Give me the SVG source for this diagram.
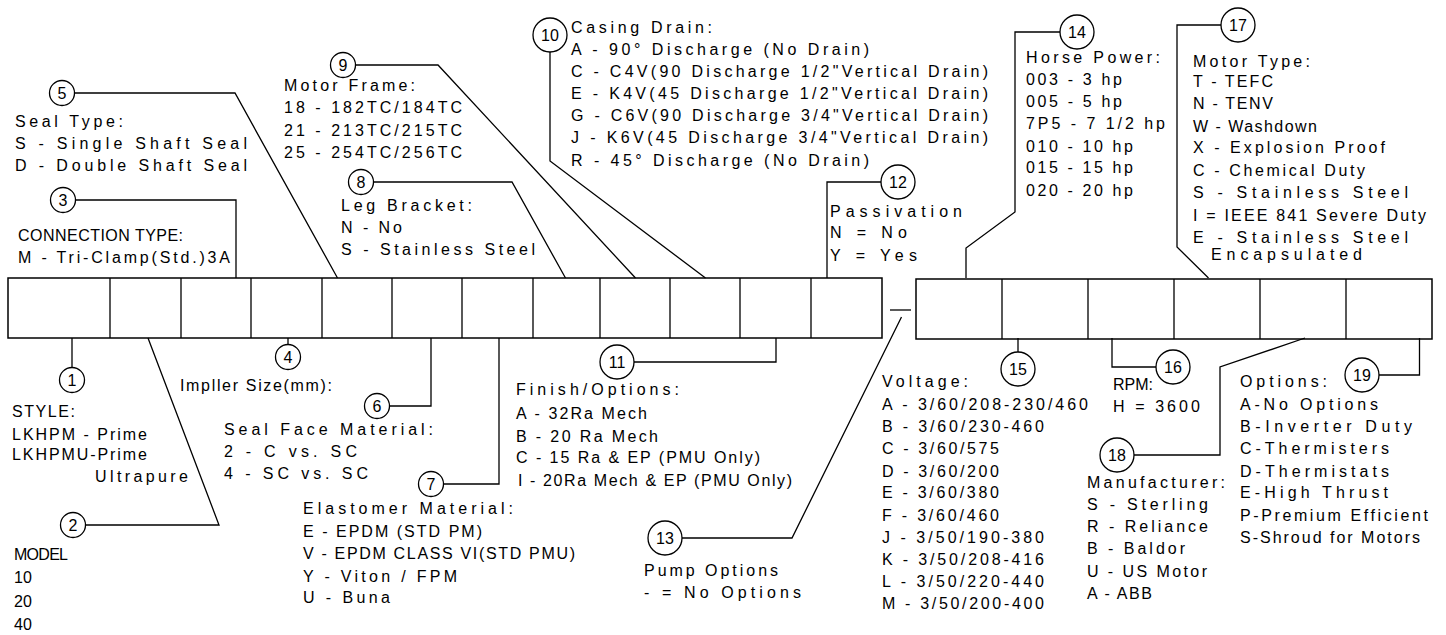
<svg xmlns="http://www.w3.org/2000/svg" width="1446" height="635" viewBox="0 0 1446 635">
<style>
text{font-family:"Liberation Sans",Arial,sans-serif;font-size:16px;fill:#000}
.n{text-anchor:middle;font-size:16px}
.c{fill:#fff;stroke:#000;stroke-width:1.3}
.ln{fill:none;stroke:#000;stroke-width:1.3}
.bx{fill:#fff;stroke:#000;stroke-width:1.5}
</style>
<rect width="1446" height="635" fill="#fff"/>
<g id="code-boxes">
<rect class="bx" x="8" y="278" width="874" height="60"/>
<path class="ln" d="M110 278V338M181 278V338M251 278V338M322 278V338M392 278V338M462 278V338M533 278V338M600 278V338M670 278V338M740 278V338M811 278V338"/>
<rect class="bx" x="916" y="279" width="516" height="60"/>
<path class="ln" d="M1002 279V339M1088 279V339M1174 279V339M1260 279V339M1346 279V339"/>
<path class="ln" d="M890 310H911"/>
</g>
<g id="connectors">
<path class="ln" d="M72 338V367.5"/>
<path class="ln" d="M85.5 525H219L148 338"/>
<path class="ln" d="M75.5 200H236V278"/>
<path class="ln" d="M288 338V344.5"/>
<path class="ln" d="M74.5 93H235L337.5 278"/>
<path class="ln" d="M389.5 406H431V338"/>
<path class="ln" d="M443.5 484H499V338"/>
<path class="ln" d="M373.5 182H512L565.5 278"/>
<path class="ln" d="M355.5 65H438L635.5 278"/>
<path class="ln" d="M550 52V161L705.5 278"/>
<path class="ln" d="M634 362H776V338"/>
<path class="ln" d="M827 278V182H881"/>
<path class="ln" d="M682 538H792L901.5 317"/>
<path class="ln" d="M966 278V248L1015 212V32H1060"/>
<path class="ln" d="M1018 338V352"/>
<path class="ln" d="M1112 338V367H1156"/>
<path class="ln" d="M1208.5 278L1177 247V25H1221"/>
<path class="ln" d="M1305 338L1220 367V455H1134"/>
<path class="ln" d="M1379 375H1419.5V338"/>
</g>
<g id="node-1">
<circle class="c" cx="72" cy="380" r="12.5"/><text class="n" x="72" y="385.5">1</text>
<text x="12" y="417" textLength="63" lengthAdjust="spacing">STYLE:</text>
<text x="12" y="440" textLength="135" lengthAdjust="spacing">LKHPM - Prime</text>
<text x="12" y="460" textLength="135" lengthAdjust="spacing">LKHPMU-Prime</text>
<text x="95" y="482" textLength="93" lengthAdjust="spacing">Ultrapure</text>
</g>
<g id="node-2">
<circle class="c" cx="73" cy="525" r="12.5"/><text class="n" x="73" y="530.5">2</text>
<text x="14" y="560" textLength="54" lengthAdjust="spacing">MODEL</text>
<text x="14" y="583">10</text>
<text x="14" y="607">20</text>
<text x="14" y="630">40</text>
</g>
<g id="node-3">
<circle class="c" cx="63" cy="200" r="12.5"/><text class="n" x="63" y="205.5">3</text>
<text x="18" y="241" textLength="165" lengthAdjust="spacing">CONNECTION TYPE:</text>
<text x="18" y="263" textLength="212" lengthAdjust="spacing">M - Tri-Clamp(Std.)3A</text>
</g>
<g id="node-4">
<circle class="c" cx="288" cy="357" r="12.5"/><text class="n" x="288" y="362.5">4</text>
<text x="180" y="391" textLength="152" lengthAdjust="spacing">Impller Size(mm):</text>
</g>
<g id="node-5">
<circle class="c" cx="62" cy="93" r="12.5"/><text class="n" x="62" y="98.5">5</text>
<text x="15" y="127" textLength="108" lengthAdjust="spacing">Seal Type:</text>
<text x="15" y="149" textLength="232" lengthAdjust="spacing">S - Single Shaft Seal</text>
<text x="15" y="171" textLength="232" lengthAdjust="spacing">D - Double Shaft Seal</text>
</g>
<g id="node-6">
<circle class="c" cx="377" cy="406" r="12.5"/><text class="n" x="377" y="411.5">6</text>
<text x="224" y="435" textLength="209" lengthAdjust="spacing">Seal Face Material:</text>
<text x="224" y="457" textLength="133" lengthAdjust="spacing">2 - C vs. SC</text>
<text x="224" y="479" textLength="144" lengthAdjust="spacing">4 - SC vs. SC</text>
</g>
<g id="node-7">
<circle class="c" cx="431" cy="484" r="12.5"/><text class="n" x="431" y="489.5">7</text>
<text x="303" y="514" textLength="210" lengthAdjust="spacing">Elastomer Material:</text>
<text x="303" y="537" textLength="179" lengthAdjust="spacing">E - EPDM (STD PM)</text>
<text x="303" y="559" textLength="272" lengthAdjust="spacing">V - EPDM CLASS VI(STD PMU)</text>
<text x="303" y="582" textLength="154" lengthAdjust="spacing">Y - Viton / FPM</text>
<text x="303" y="603" textLength="87" lengthAdjust="spacing">U - Buna</text>
</g>
<g id="node-8">
<circle class="c" cx="361" cy="182" r="12.5"/><text class="n" x="361" y="187.5">8</text>
<text x="341" y="211" textLength="131" lengthAdjust="spacing">Leg Bracket:</text>
<text x="341" y="233" textLength="61" lengthAdjust="spacing">N - No</text>
<text x="341" y="255" textLength="194" lengthAdjust="spacing">S - Stainless Steel</text>
</g>
<g id="node-9">
<circle class="c" cx="343" cy="65" r="12.5"/><text class="n" x="343" y="70.5">9</text>
<text x="284" y="91" textLength="131" lengthAdjust="spacing">Motor Frame:</text>
<text x="284" y="113" textLength="178" lengthAdjust="spacing">18 - 182TC/184TC</text>
<text x="284" y="136" textLength="178" lengthAdjust="spacing">21 - 213TC/215TC</text>
<text x="284" y="158" textLength="178" lengthAdjust="spacing">25 - 254TC/256TC</text>
</g>
<g id="node-10">
<circle class="c" cx="550" cy="35" r="17"/><text class="n" x="550" y="40.5">10</text>
<text x="571" y="33" textLength="141" lengthAdjust="spacing">Casing Drain:</text>
<text x="571" y="55" textLength="298" lengthAdjust="spacing">A - 90° Discharge (No Drain)</text>
<text x="571" y="77" textLength="417" lengthAdjust="spacing">C - C4V(90 Discharge 1/2"Vertical Drain)</text>
<text x="571" y="99" textLength="417" lengthAdjust="spacing">E - K4V(45 Discharge 1/2"Vertical Drain)</text>
<text x="571" y="121" textLength="417" lengthAdjust="spacing">G - C6V(90 Discharge 3/4"Vertical Drain)</text>
<text x="571" y="143" textLength="417" lengthAdjust="spacing">J - K6V(45 Discharge 3/4"Vertical Drain)</text>
<text x="571" y="166" textLength="298" lengthAdjust="spacing">R - 45° Discharge (No Drain)</text>
</g>
<g id="node-11">
<circle class="c" cx="617" cy="362" r="17"/><text class="n" x="617" y="367.5">11</text>
<text x="516" y="395" textLength="163" lengthAdjust="spacing">Finish/Options:</text>
<text x="516" y="419" textLength="131" lengthAdjust="spacing">A - 32Ra Mech</text>
<text x="516" y="442" textLength="142" lengthAdjust="spacing">B - 20 Ra Mech</text>
<text x="516" y="463" textLength="244" lengthAdjust="spacing">C - 15 Ra &amp; EP (PMU Only)</text>
<text x="518" y="486" textLength="274" lengthAdjust="spacing">I - 20Ra Mech &amp; EP (PMU Only)</text>
</g>
<g id="node-12">
<circle class="c" cx="898" cy="182" r="17"/><text class="n" x="898" y="187.5">12</text>
<text x="830" y="217" textLength="132" lengthAdjust="spacing">Passivation</text>
<text x="830" y="238" textLength="77" lengthAdjust="spacing">N = No</text>
<text x="830" y="261" textLength="87" lengthAdjust="spacing">Y = Yes</text>
</g>
<g id="node-13">
<circle class="c" cx="665" cy="538" r="17"/><text class="n" x="665" y="543.5">13</text>
<text x="644" y="576" textLength="134" lengthAdjust="spacing">Pump Options</text>
<text x="644" y="598" textLength="157" lengthAdjust="spacing">- = No Options</text>
</g>
<g id="node-14">
<circle class="c" cx="1077" cy="32" r="17"/><text class="n" x="1077" y="37.5">14</text>
<text x="1026" y="63" textLength="134" lengthAdjust="spacing">Horse Power:</text>
<text x="1026" y="85" textLength="96" lengthAdjust="spacing">003 - 3 hp</text>
<text x="1026" y="107" textLength="96" lengthAdjust="spacing">005 - 5 hp</text>
<text x="1026" y="129" textLength="139" lengthAdjust="spacing">7P5 - 7 1/2 hp</text>
<text x="1026" y="152" textLength="107" lengthAdjust="spacing">010 - 10 hp</text>
<text x="1026" y="173" textLength="107" lengthAdjust="spacing">015 - 15 hp</text>
<text x="1026" y="196" textLength="107" lengthAdjust="spacing">020 - 20 hp</text>
</g>
<g id="node-15">
<circle class="c" cx="1018" cy="369" r="17"/><text class="n" x="1018" y="374.5">15</text>
<text x="882" y="387" textLength="86" lengthAdjust="spacing">Voltage:</text>
<text x="882" y="410" textLength="206" lengthAdjust="spacing">A - 3/60/208-230/460</text>
<text x="882" y="432" textLength="162" lengthAdjust="spacing">B - 3/60/230-460</text>
<text x="882" y="454" textLength="117" lengthAdjust="spacing">C - 3/60/575</text>
<text x="882" y="477" textLength="117" lengthAdjust="spacing">D - 3/60/200</text>
<text x="882" y="498" textLength="117" lengthAdjust="spacing">E - 3/60/380</text>
<text x="882" y="521" textLength="117" lengthAdjust="spacing">F - 3/60/460</text>
<text x="882" y="543" textLength="162" lengthAdjust="spacing">J - 3/50/190-380</text>
<text x="882" y="565" textLength="162" lengthAdjust="spacing">K - 3/50/208-416</text>
<text x="882" y="587" textLength="162" lengthAdjust="spacing">L - 3/50/220-440</text>
<text x="882" y="609" textLength="162" lengthAdjust="spacing">M - 3/50/200-400</text>
</g>
<g id="node-16">
<circle class="c" cx="1173" cy="367" r="17"/><text class="n" x="1173" y="372.5">16</text>
<text x="1113" y="390" textLength="40" lengthAdjust="spacing">RPM:</text>
<text x="1113" y="412" textLength="87" lengthAdjust="spacing">H = 3600</text>
</g>
<g id="node-17">
<circle class="c" cx="1238" cy="25" r="17"/><text class="n" x="1238" y="30.5">17</text>
<text x="1193" y="67" textLength="117" lengthAdjust="spacing">Motor Type:</text>
<text x="1193" y="87" textLength="80" lengthAdjust="spacing">T - TEFC</text>
<text x="1193" y="109" textLength="80" lengthAdjust="spacing">N - TENV</text>
<text x="1193" y="132" textLength="124" lengthAdjust="spacing">W - Washdown</text>
<text x="1193" y="153" textLength="192" lengthAdjust="spacing">X - Explosion Proof</text>
<text x="1193" y="176" textLength="172" lengthAdjust="spacing">C - Chemical Duty</text>
<text x="1193" y="198" textLength="215" lengthAdjust="spacing">S - Stainless Steel</text>
<text x="1193" y="221" textLength="233" lengthAdjust="spacing">I = IEEE 841 Severe Duty</text>
<text x="1193" y="243" textLength="215" lengthAdjust="spacing">E - Stainless Steel</text>
<text x="1211" y="260" textLength="151" lengthAdjust="spacing">Encapsulated</text>
</g>
<g id="node-18">
<circle class="c" cx="1117" cy="455" r="17"/><text class="n" x="1117" y="460.5">18</text>
<text x="1087" y="488" textLength="138" lengthAdjust="spacing">Manufacturer:</text>
<text x="1087" y="510" textLength="121" lengthAdjust="spacing">S - Sterling</text>
<text x="1087" y="532" textLength="121" lengthAdjust="spacing">R - Reliance</text>
<text x="1087" y="554" textLength="98" lengthAdjust="spacing">B - Baldor</text>
<text x="1087" y="577" textLength="120" lengthAdjust="spacing">U - US Motor</text>
<text x="1087" y="599" textLength="65" lengthAdjust="spacing">A - ABB</text>
</g>
<g id="node-19">
<circle class="c" cx="1362" cy="375" r="17"/><text class="n" x="1362" y="380.5">19</text>
<text x="1240" y="387" textLength="87" lengthAdjust="spacing">Options:</text>
<text x="1240" y="410" textLength="138" lengthAdjust="spacing">A-No Options</text>
<text x="1240" y="432" textLength="172" lengthAdjust="spacing">B-Inverter Duty</text>
<text x="1240" y="454" textLength="149" lengthAdjust="spacing">C-Thermisters</text>
<text x="1240" y="477" textLength="149" lengthAdjust="spacing">D-Thermistats</text>
<text x="1240" y="498" textLength="148" lengthAdjust="spacing">E-High Thrust</text>
<text x="1240" y="521" textLength="188" lengthAdjust="spacing">P-Premium Efficient</text>
<text x="1240" y="543" textLength="180" lengthAdjust="spacing">S-Shroud for Motors</text>
</g>
</svg>
